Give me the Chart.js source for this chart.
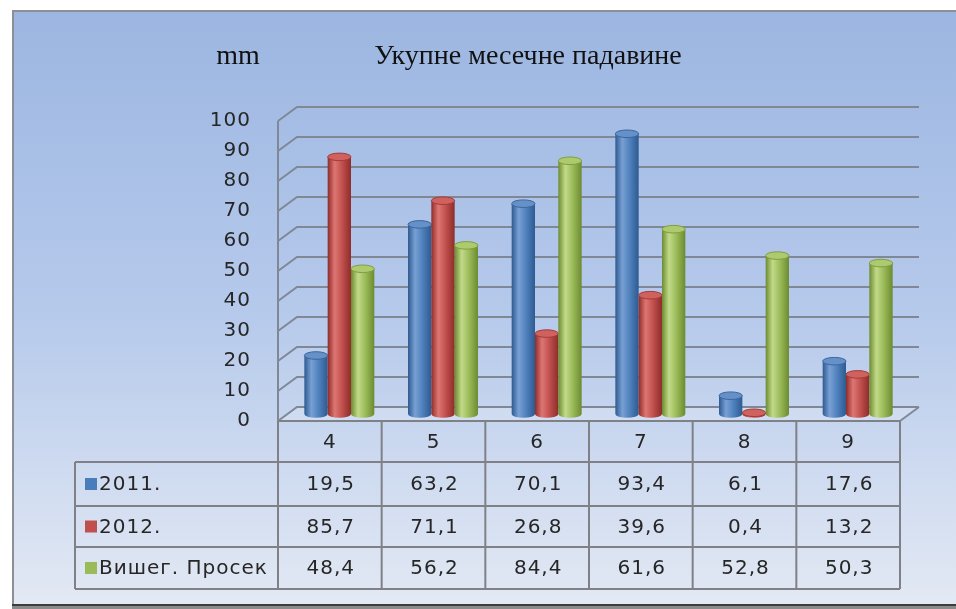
<!DOCTYPE html>
<html><head><meta charset="utf-8">
<script src="https://cdn.jsdelivr.net/npm/chart.js@4.4.1/dist/chart.umd.min.js"></script>
<style>html,body{margin:0;padding:0;background:#fff;overflow:hidden}#wrap{width:956px;height:609px;position:relative}</style>
</head><body><div id="wrap"><canvas id="c" width="956" height="609"></canvas></div>
<script>
const categories = ['4', '5', '6', '7', '8', '9'];
const series2011 = [19.5, 63.2, 70.1, 93.4, 6.1, 17.6];
const series2012 = [85.7, 71.1, 26.8, 39.6, 0.4, 13.2];
const seriesAvg = [48.4, 56.2, 84.4, 61.6, 52.8, 50.3];
const seriesNames = ['2011.', '2012.', 'Вишег. Просек'];
const yMin = 0, yMax = 100, yStep = 10;
const titleText = 'Укупне месечне падавине';
const unitText = 'mm';

const SANS = '"DejaVu Sans", "Noto Sans", sans-serif';
const SERIF = '"Liberation Serif", "DejaVu Serif", serif';
const DEPTH_X = 19, DEPTH_Y = -14;
const TXT = '#262626';
const SPACING = '1px';
const palette = [
  {dark:'#2d5a91', light:'#78a0d4', mid:'#4f81bd', top:'#6590c8', edge:'#3a679f', key:'#4a7ebb'},
  {dark:'#8e2c2a', light:'#de7673', mid:'#c0504d', top:'#cf615e', edge:'#a33b38', key:'#c0504d'},
  {dark:'#6c8b30', light:'#c1da88', mid:'#9bbb59', top:'#adca6e', edge:'#7f9f3e', key:'#9bbb59'}
];
const fmt = v => v.toFixed(1).replace('.', ',');

function cylinder(ctx, cx, top, base, w, c){
  const rx = w/2, ry = 3.8, l = cx - rx, r = cx + rx;
  const g = ctx.createLinearGradient(l, 0, r, 0);
  g.addColorStop(0, c.dark); g.addColorStop(0.3, c.light);
  g.addColorStop(0.62, c.mid); g.addColorStop(1, c.dark);
  ctx.beginPath();
  ctx.moveTo(l, top); ctx.lineTo(l, base);
  ctx.ellipse(cx, base, rx, ry, 0, Math.PI, 0, true);
  ctx.lineTo(r, top); ctx.closePath();
  ctx.fillStyle = g; ctx.fill();
  ctx.beginPath();
  ctx.ellipse(cx, top, rx, ry, 0, 0, Math.PI*2);
  ctx.fillStyle = c.top; ctx.fill();
  ctx.lineWidth = 1; ctx.strokeStyle = c.edge; ctx.stroke();
}

const decor = {
  id: 'decor',
  beforeDraw(chart){
    const ctx = chart.ctx, W = chart.width, H = chart.height;
    ctx.save();
    ctx.letterSpacing = '0px';
    ctx.fillStyle = '#fff'; ctx.fillRect(0, 0, W, H);
    const g = ctx.createLinearGradient(0, 10, 0, 605);
    g.addColorStop(0, '#9cb6e1'); g.addColorStop(0.5, '#b5c9eb'); g.addColorStop(1, '#e3e9f4');
    ctx.fillStyle = g; ctx.fillRect(12, 10, W - 12, 595);
    ctx.fillStyle = '#8c8f95'; ctx.fillRect(12, 10, W - 12, 2); ctx.fillRect(12, 10, 2, 597);
    ctx.fillStyle = '#3c3c3c'; ctx.fillRect(12, 604, W - 12, 2);
    ctx.fillStyle = '#8a8a8a'; ctx.fillRect(12, 606, W - 12, 3);
    // titles
    ctx.fillStyle = '#111'; ctx.font = '28px ' + SERIF;
    ctx.textAlign = 'center'; ctx.textBaseline = 'middle';
    ctx.fillText(unitText, 238, 57);
    ctx.fillText(titleText, 528, 57);
    // walls & floor
    const ys = chart.scales.y, a = chart.chartArea;
    const xl = a.left, xr = a.right;
    const yb0 = ys.getPixelForValue(yMin);
    ctx.fillStyle = 'rgba(255,255,255,0.18)';
    ctx.beginPath(); ctx.moveTo(xl, yb0); ctx.lineTo(xl + DEPTH_X, yb0 + DEPTH_Y);
    ctx.lineTo(xr + DEPTH_X, yb0 + DEPTH_Y); ctx.lineTo(xr, yb0); ctx.closePath(); ctx.fill();
    ctx.strokeStyle = '#808896'; ctx.lineWidth = 2;
    for (let v = yMin; v <= yMax; v += yStep){
      const y = ys.getPixelForValue(v);
      ctx.beginPath(); ctx.moveTo(xl, y); ctx.lineTo(xl + DEPTH_X, y + DEPTH_Y);
      ctx.lineTo(xr + DEPTH_X, y + DEPTH_Y); ctx.stroke();
    }
    ctx.beginPath(); ctx.moveTo(xl, ys.getPixelForValue(yMax)); ctx.lineTo(xl, yb0); ctx.stroke();
    ctx.beginPath(); ctx.moveTo(xr, yb0); ctx.lineTo(xr + DEPTH_X, yb0 + DEPTH_Y); ctx.stroke();
    ctx.restore();
    ctx.letterSpacing = SPACING;
  },
  beforeDatasetsDraw(chart){
    const ctx = chart.ctx, n = categories.length;
    ctx.save();
    ctx.translate(DEPTH_X/2, DEPTH_Y/2);
    for (let i = 0; i < n; i++){
      chart.data.datasets.forEach((ds, d) => {
        const el = chart.getDatasetMeta(d).data[i];
        cylinder(ctx, el.x, el.y, el.base, el.width, palette[d]);
      });
    }
    ctx.restore();
    return false;
  },
  afterDraw(chart){
    const ctx = chart.ctx, xs = chart.scales.x, a = chart.chartArea;
    const n = categories.length, cw = (a.right - a.left)/n;
    const rows = [a.bottom, 462, 506, 547, 589];
    const legL = 75;
    ctx.save();
    ctx.letterSpacing = SPACING;
    ctx.strokeStyle = '#7f8186'; ctx.lineWidth = 2;
    ctx.beginPath();
    ctx.moveTo(a.left, rows[0]); ctx.lineTo(a.right, rows[0]);
    for (let r = 1; r < rows.length; r++){ ctx.moveTo(legL, rows[r]); ctx.lineTo(a.right, rows[r]); }
    for (let i = 0; i <= n; i++){ const x = a.left + i*cw; ctx.moveTo(x, rows[0]); ctx.lineTo(x, rows[4]); }
    ctx.moveTo(legL, rows[1]); ctx.lineTo(legL, rows[4]);
    ctx.stroke();
    ctx.font = '20px ' + SANS; ctx.fillStyle = TXT; ctx.textBaseline = 'middle';
    chart.data.datasets.forEach((ds, d) => {
      const yc = (rows[d+1] + rows[d+2])/2;
      ctx.fillStyle = palette[d].key; ctx.fillRect(85, yc - 6, 12, 12);
      ctx.fillStyle = TXT; ctx.textAlign = 'left';
      ctx.fillText(ds.label, 99, yc + 1);
      ctx.textAlign = 'center';
      ds.data.forEach((v, i) => ctx.fillText(fmt(v), xs.getPixelForValue(i) + 1, yc + 1));
    });
    ctx.restore();
  }
};

new Chart(document.getElementById('c'), {
  type: 'bar',
  data: {
    labels: categories,
    datasets: [
      {label: seriesNames[0], data: series2011, backgroundColor: palette[0].mid},
      {label: seriesNames[1], data: series2012, backgroundColor: palette[1].mid},
      {label: seriesNames[2], data: seriesAvg, backgroundColor: palette[2].mid}
    ]
  },
  options: {
    responsive: false, animation: false, devicePixelRatio: 1,
    layout: {padding: {top: 121, right: 56, bottom: 0, left: 0}},
    datasets: {bar: {categoryPercentage: 0.675, barPercentage: 1}},
    plugins: {legend: {display: false}, tooltip: {enabled: false}, title: {display: false}},
    scales: {
      x: {
        grid: {display: false, drawTicks: false}, border: {display: false},
        ticks: {padding: 10, color: TXT, font: {family: SANS, size: 20}},
        afterFit(s){ s.height = 188; }
      },
      y: {
        min: yMin, max: yMax,
        grid: {display: false, drawTicks: false}, border: {display: false},
        ticks: {stepSize: yStep, padding: 27, color: TXT, font: {family: SANS, size: 20}},
        afterFit(s){ s.width = 278; }
      }
    }
  },
  plugins: [decor]
});
</script></body></html>
